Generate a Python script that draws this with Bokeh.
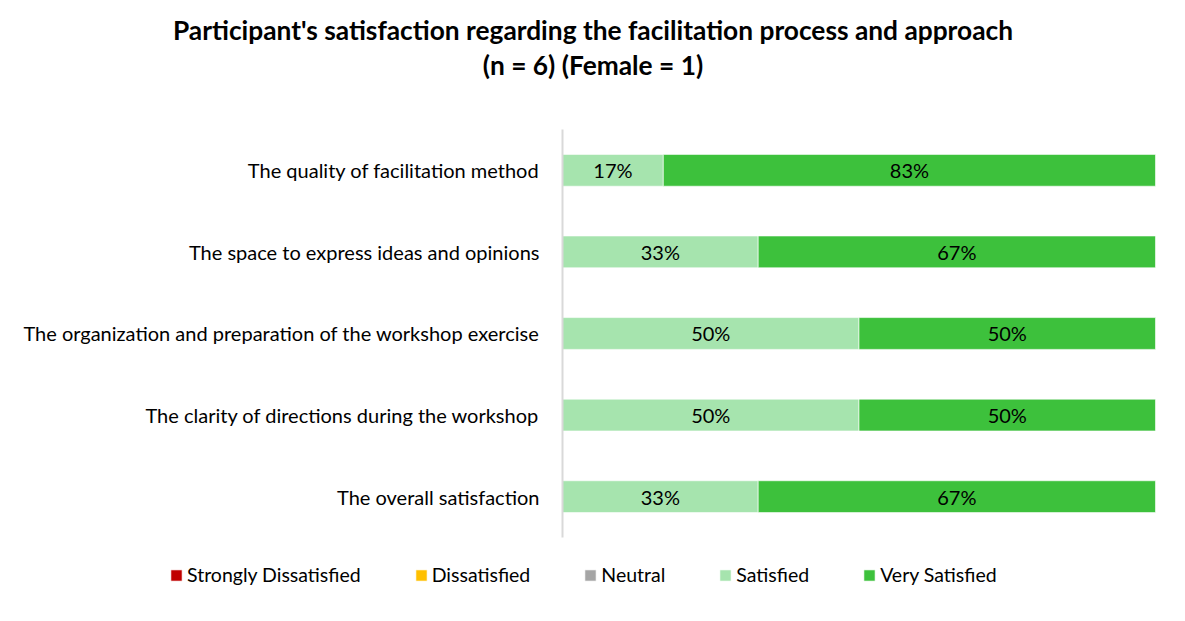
from bokeh.plotting import figure
from bokeh.models import ColumnDataSource, Legend, LegendItem, Range1d
from bokeh.core.properties import value
from bokeh.embed import file_html
from bokeh.resources import INLINE

# ---- data ----
categories = [
    "The quality of facilitation method",
    "The space to express ideas and opinions",
    "The organization and preparation of the workshop exercise",
    "The clarity of directions during the workshop",
    "The overall satisfaction",
]
series_names = ["Strongly Dissatisfied", "Dissatisfied", "Neutral", "Satisfied", "Very Satisfied"]
strongly_dissatisfied = [0, 0, 0, 0, 0]
dissatisfied = [0, 0, 0, 0, 0]
neutral = [0, 0, 0, 0, 0]
satisfied = [17, 33, 50, 50, 33]
very_satisfied = [83, 67, 50, 50, 67]
colors = ["#C00000", "#FFC000", "#A5A5A5", "#A6E4AE", "#3DC13C"]
title_line1 = "Participant's satisfaction regarding the facilitation process and approach"
title_line2 = "(n = 6) (Female = 1)"

FONT = "Lato"
series = [strongly_dissatisfied, dissatisfied, neutral, satisfied, very_satisfied]
keys = ["s0", "s1", "s2", "s3", "s4"]
ypos = list(range(len(categories)))
n = len(categories)

data = {"y": ypos, "cat": categories}
for k, s in zip(keys, series):
    data[k] = s
src = ColumnDataSource(data)

x_start, x_end = -94.77, 105.06
p = figure(
    width=1185, height=621,
    x_range=Range1d(x_start, x_end),
    y_range=Range1d(n - 0.5 + 1.03, -0.5 - 1.581),
    x_axis_location=None, y_axis_location=None,
    toolbar_location=None, output_backend="svg",
    min_border=0,
    outline_line_color=None,
)
p.xgrid.visible = False
p.ygrid.visible = False

renderers = p.hbar_stack(keys, y="y", height=0.39, color=colors, source=src,
                         line_color="white", line_width=1, line_alpha=0.6)

# vertical category axis line
p.segment(x0=[0], y0=[-0.5], x1=[0], y1=[n - 0.5], line_color="#D9D9D9", line_width=2)

# percentage labels
lx, ly, lt = [], [], []
for i in range(n):
    left = 0
    for s in series:
        v = s[i]
        if v > 0:
            lx.append(left + v / 2)
            ly.append(ypos[i])
            lt.append(f"{v}%")
        left += v
p.text(x=lx, y=ly, text=lt, text_align="center", text_baseline="middle",
       text_font=value(FONT), text_font_size="20px", text_color="#000000")

# category labels
p.text(x=[0] * n, y=ypos, text=categories, x_offset=-23,
       text_align="right", text_baseline="middle",
       text_font=value(FONT), text_font_size="20px", text_color="#000000")

# two-line chart title, centred on the page, placed above the top category edge
xc = (x_start + x_end) / 2
p.text(x=[xc, xc], y=[-0.5, -0.5], text=[title_line1, title_line2], y_offset=[-99, -64],
       text_align="center", text_baseline="middle",
       text_font=value(FONT), text_font_size="26.3px", text_font_style="bold",
       text_color="#000000")

legend = Legend(
    items=[LegendItem(label=nm, renderers=[r]) for nm, r in zip(series_names, renderers)],
    orientation="horizontal", location=(169, 35),
    glyph_width=14, glyph_height=14, label_standoff=4, spacing=53,
    label_text_font=FONT, label_text_font_size="19.5px", label_text_color="#000000",
    border_line_color=None, background_fill_alpha=0,
)
p.add_layout(legend, "center")

open("out.html", "w").write(file_html(p, INLINE))
